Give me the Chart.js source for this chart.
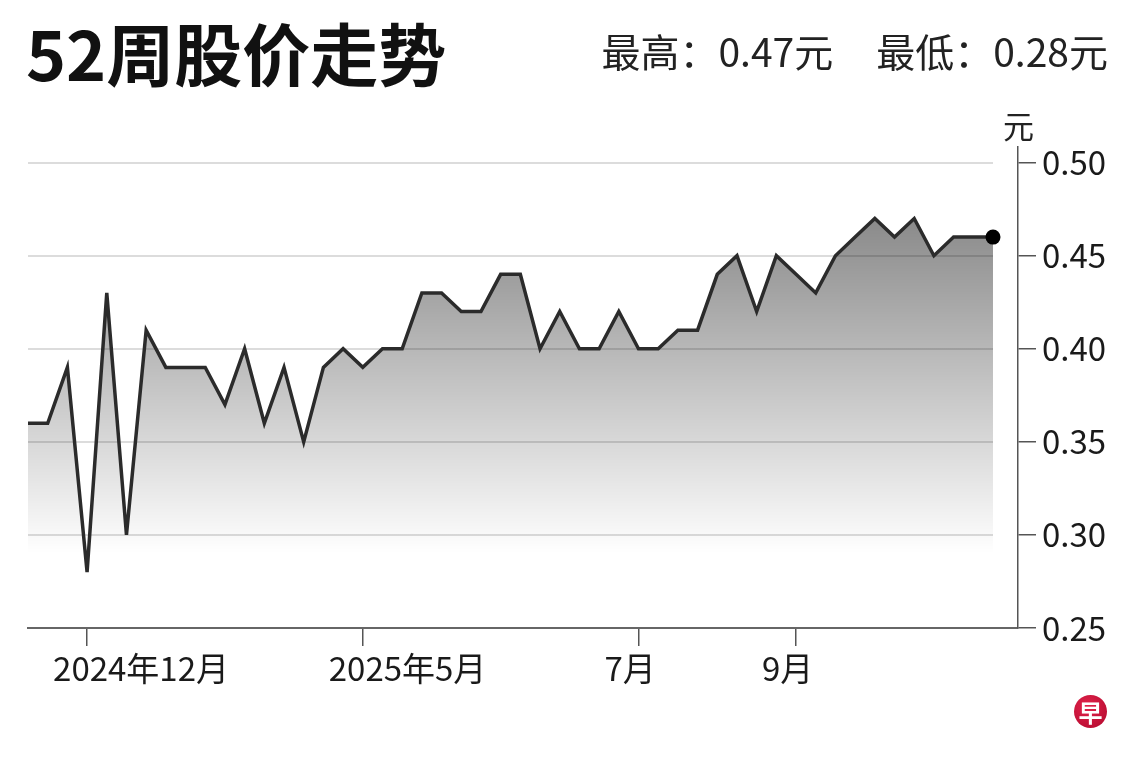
<!DOCTYPE html>
<html>
<head>
<meta charset="utf-8">
<script src="https://cdn.jsdelivr.net/npm/chart.js@4.4.1/dist/chart.umd.min.js"></script>
<style>
    html, body { margin: 0; padding: 0; background: #fff; }
    #wrap { position: relative; width: 1140px; height: 760px; overflow: hidden; font-family: "Noto Sans CJK SC", "Noto Sans", sans-serif; }
    canvas { position: absolute; left: 0; top: 0; }
    #title { position: absolute; left: 26px; top: 11px; font-size: 68px; font-weight: bold; line-height: 1.2; color: #111; }
    #hilo { position: absolute; right: 32px; top: 27px; font-size: 39px; line-height: 1.2; color: #222; white-space: pre; }
    #hilo span + span { margin-left: 43px; }
    #unit { position: absolute; left: 1003px; top: 106px; font-size: 31px; line-height: 1.2; color: #222; }
    #logo { position: absolute; left: 1074px; top: 695px; width: 33px; height: 33px; border-radius: 50%;
            background: radial-gradient(circle at 40% 35%, #e2234c, #b0082c); color: #fff;
            font-size: 24px; font-weight: bold; line-height: 33px; text-align: center; }
</style>
</head>
<body>
<div id="wrap">
    <canvas id="chart" width="1140" height="760"></canvas>
    <div id="title">52周股价走势</div>
    <div id="hilo"><span>最高：0.47元</span><span>最低：0.28元</span></div>
    <div id="unit">元</div>
    <div id="logo">早</div>
</div>

<script>
// ---------------------------------------------------------------
// DATOS
// ---------------------------------------------------------------
const prices = [
    0.36, 0.36, 0.39, 0.28, 0.43, 0.30, 0.41, 0.39, 0.39, 0.39,
    0.37, 0.40, 0.36, 0.39, 0.35, 0.39, 0.40, 0.39, 0.40, 0.40,
    0.43, 0.43, 0.42, 0.42, 0.44, 0.44, 0.40, 0.42, 0.40, 0.40,
    0.42, 0.40, 0.40, 0.41, 0.41, 0.44, 0.45, 0.42, 0.45, 0.44,
    0.43, 0.45, 0.46, 0.47, 0.46, 0.47, 0.45, 0.46, 0.46, 0.46
];
const tickAt = [3, 17, 31, 39];                       // puntos donde cae cada marca del eje x
const tickLabels = ['2024年12月', '2025年5月', '7月', '9月'];
const yTicks = [0.25, 0.30, 0.35, 0.40, 0.45, 0.50];

// ---------------------------------------------------------------
// lineas de la rejilla que terminan en el ultimo punto
// ---------------------------------------------------------------
const shortGrid = {
    id: 'shortGrid',
    beforeDatasetsDraw(chart) {
        const { ctx, chartArea, scales: { x, y } } = chart;
        const xEnd = x.getPixelForValue(prices.length - 1);
        ctx.save();
        ctx.strokeStyle = '#dcdcdc';
        ctx.lineWidth = 2;
        yTicks.forEach(v => {
            if (v === yTicks[0]) return;
            const py = Math.round(y.getPixelForValue(v));
            ctx.beginPath();
            ctx.moveTo(chartArea.left, py);
            ctx.lineTo(xEnd, py);
            ctx.stroke();
        });
        ctx.restore();
    }
};

// degradado gris bajo la linea
function areaFill(context) {
    const chart = context.chart;
    if (!chart.chartArea) return 'rgba(0,0,0,0.2)';
    const y = chart.scales.y;
    const g = chart.ctx.createLinearGradient(0, y.getPixelForValue(0.47), 0, y.getPixelForValue(0.29));
    g.addColorStop(0, 'rgba(0,0,0,0.46)');
    g.addColorStop(1, 'rgba(0,0,0,0)');
    return g;
}

const last = prices.length - 1;

new Chart(document.getElementById('chart'), {
    type: 'line',
    data: {
        datasets: [{
            data: prices.map((v, i) => ({ x: i, y: v })),
            borderColor: '#2b2b2b',
            borderWidth: 3.5,
            tension: 0,
            fill: 'start',
            backgroundColor: areaFill,
            pointRadius: ctx => ctx.dataIndex === last ? 7.5 : 0,
            pointBackgroundColor: '#000',
            pointBorderWidth: 0,
            pointHoverRadius: 0,
            clip: false
        }]
    },
    options: {
        responsive: false,
        animation: false,
        devicePixelRatio: 1,
        layout: { padding: { left: 28, top: 147, right: 0, bottom: 0 } },
        plugins: {
            legend: { display: false },
            tooltip: { enabled: false },
            title: { display: false }
        },
        scales: {
            x: {
                type: 'linear',
                position: 'bottom',
                min: 0,
                max: 50.27,
                afterBuildTicks: s => { s.ticks = tickAt.map(v => ({ value: v })); },
                afterFit: s => { s.height = 132; },
                ticks: {
                    callback: v => tickLabels[tickAt.indexOf(v)],
                    align: 'start',
                    labelOffset: -34,
                    autoSkip: false,
                    maxRotation: 0,
                    padding: 3,
                    color: '#1a1a1a',
                    font: { family: '"Noto Sans CJK SC", "Noto Sans", sans-serif', size: 33 }
                },
                grid: { drawOnChartArea: false, drawTicks: true, tickLength: 18, color: '#555', lineWidth: 1.5 },
                border: { display: true, color: '#666', width: 2 }
            },
            y: {
                type: 'linear',
                position: 'right',
                min: 0.25,
                max: 0.5084,
                afterBuildTicks: s => { s.ticks = yTicks.map(v => ({ value: v })); },
                afterFit: s => { s.width = 122; },
                ticks: {
                    callback: v => v.toFixed(2),
                    padding: 6,
                    color: '#1a1a1a',
                    font: { family: '"Noto Sans CJK SC", "Noto Sans", sans-serif', size: 33 }
                },
                grid: { drawOnChartArea: false, drawTicks: true, tickLength: 18, color: '#555', lineWidth: 1.5 },
                border: { display: true, color: '#555', width: 1.5 }
            }
        }
    },
    plugins: [shortGrid]
});
</script>
</body>
</html>
